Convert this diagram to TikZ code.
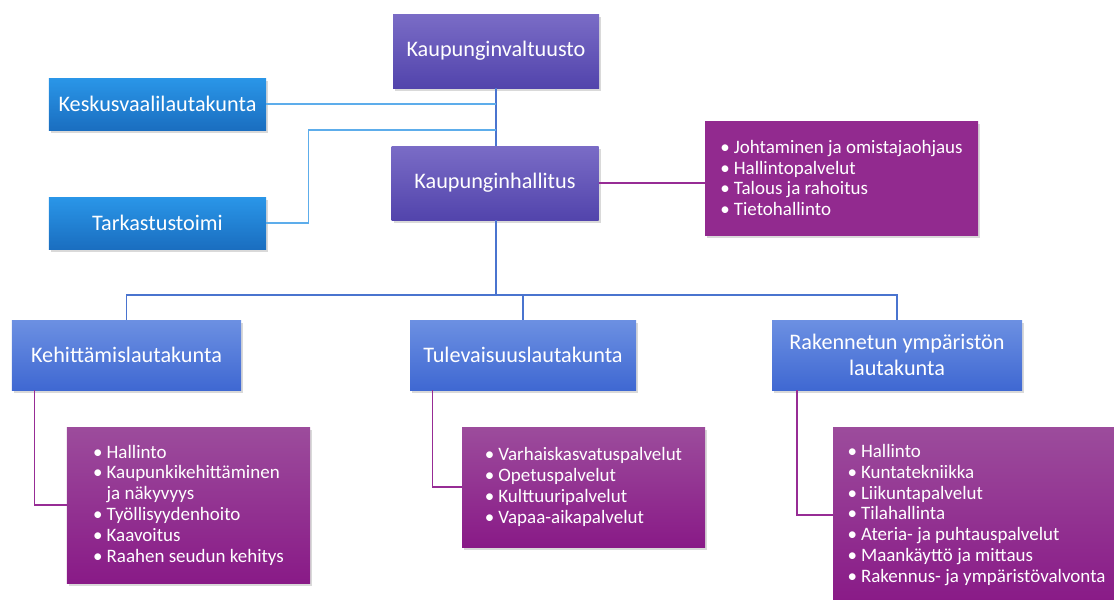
\documentclass[tikz,border=0pt]{standalone}
\usepackage{fontspec}
\setmainfont{Carlito}
\usetikzlibrary{shadows,positioning}
\usepackage{xcolor}

\definecolor{councilTop}{HTML}{7A6CC6}
\definecolor{councilBot}{HTML}{5244AC}
\definecolor{sideTop}{HTML}{2A96E8}
\definecolor{sideBot}{HTML}{1A6EC0}
\definecolor{boardTop}{HTML}{6C90E2}
\definecolor{boardBot}{HTML}{3F68D2}
\definecolor{listTop}{HTML}{9C4C9C}
\definecolor{listBot}{HTML}{891A87}
\definecolor{listFlat}{HTML}{922A8F}
\definecolor{trunkBlue}{HTML}{4A74CF}
\definecolor{skyBlue}{HTML}{5DADEB}
\definecolor{twigPurple}{HTML}{972C95}

\newcommand{\itm}{\makebox[9.6pt][l]{\textbullet}}
\newcommand{\cnt}{\hspace*{9.6pt}}

\tikzset{
  box/.style={draw=none, text=white, align=center, inner sep=0pt,
    drop shadow={shadow xshift=1.6pt, shadow yshift=-2pt, opacity=0.3}},
  council/.style={box, top color=councilTop, bottom color=councilBot,
    minimum height=18.5mm, font=\fontsize{15.8}{18.5}\selectfont},
  sidebox/.style={box, top color=sideTop, bottom color=sideBot,
    minimum width=54.25mm, minimum height=13mm, font=\fontsize{15.8}{18.5}\selectfont},
  board/.style={box, top color=boardTop, bottom color=boardBot,
    minimum height=17.5mm, font=\fontsize{15.8}{18.5}\selectfont},
  tasks/.style={box, top color=listTop, bottom color=listBot, align=left,
    font=\fontsize{13.5}{14.8}\selectfont},
  trunk/.style={draw=trunkBlue, line width=1.2pt},
  side/.style={draw=skyBlue, line width=1.1pt},
  twig/.style={draw=twigPurple, line width=1.1pt}
}

\begin{document}
\begin{tikzpicture}[x=0.25mm, y=-0.25mm]
    \clip (0,0) rectangle (1114,599);

    % Councils
    \node[council, minimum width=51.5mm] (valtuusto) at (496,51) {Kaupunginvaltuusto};
    \node[council, minimum width=51.75mm] (hallitus) at (495,183) {Kaupunginhallitus};
    \node[sidebox] (keskus) at (157.5,104) {Keskusvaalilautakunta};
    \node[sidebox] (tarkastus) at (157.5,223) {Tarkastustoimi};
    \node[tasks, top color=listFlat, bottom color=listFlat, minimum height=28.5mm,
          minimum width=68.25mm] (johto) at (841.5,178)
      {\itm Johtaminen ja omistajaohjaus\\ \itm Hallintopalvelut\\
       \itm Talous ja rahoitus\\ \itm Tietohallinto};

    % Boards
    \node[board, minimum width=57.25mm] (kehitys) at (126.5,355) {Kehittämislautakunta};
    \node[board, minimum width=56.5mm] (tulevaisuus) at (523,355) {Tulevaisuuslautakunta};
    \node[board, minimum width=62.5mm] (rakenne) at (897,355) {Rakennetun ympäristön\\lautakunta};

    % Services
    \node[tasks, minimum height=39mm, minimum width=60.75mm] (palv1) at (188.5,505)
      {\itm Hallinto\\ \itm Kaupunkikehittäminen\\ \cnt ja näkyvyys\\ \itm Työllisyydenhoito\\
       \itm Kaavoitus\\ \itm Raahen seudun kehitys};
    \node[tasks, minimum height=30mm, minimum width=60.75mm] (palv2) at (583.5,487)
      {\itm Varhaiskasvatuspalvelut\\ \itm Opetuspalvelut\\ \itm Kulttuuripalvelut\\
       \itm Vapaa-aikapalvelut};
    \node[tasks, minimum height=44mm, minimum width=71.75mm] (palv3) at (976.5,515)
      {\itm Hallinto\\ \itm Kuntatekniikka\\ \itm Liikuntapalvelut\\ \itm Tilahallinta\\
       \itm Ateria- ja puhtauspalvelut\\ \itm Maankäyttö ja mittaus\\
       \itm Rakennus- ja ympäristövalvonta};

    % Connectors
    \coordinate (join) at (496,130);
    \coordinate (hub) at (496,295);
    \draw[trunk] (valtuusto.south) -- (valtuusto.south |- hallitus.north);
    \draw[side] (keskus.east) -- (keskus.east -| valtuusto.south);
    \draw[side] (tarkastus.east) -- ++(42,0) |- (join);
    \draw[trunk] (hub |- hallitus.south) -- (hub);
    \draw[trunk] (kehitys.north) |- (hub) -| (rakenne.north);
    \draw[trunk] (hub) -| (tulevaisuus.north);
    \draw[twig] (hallitus.east) -- (hallitus.east -| johto.west);
    \draw[twig] ([xshift=5.75mm]kehitys.south west) |- (palv1.west);
    \draw[twig] ([xshift=5.75mm]tulevaisuus.south west) |- (palv2.west);
    \draw[twig] ([xshift=6.25mm]rakenne.south west) |- (palv3.west);
\end{tikzpicture}
\end{document}
